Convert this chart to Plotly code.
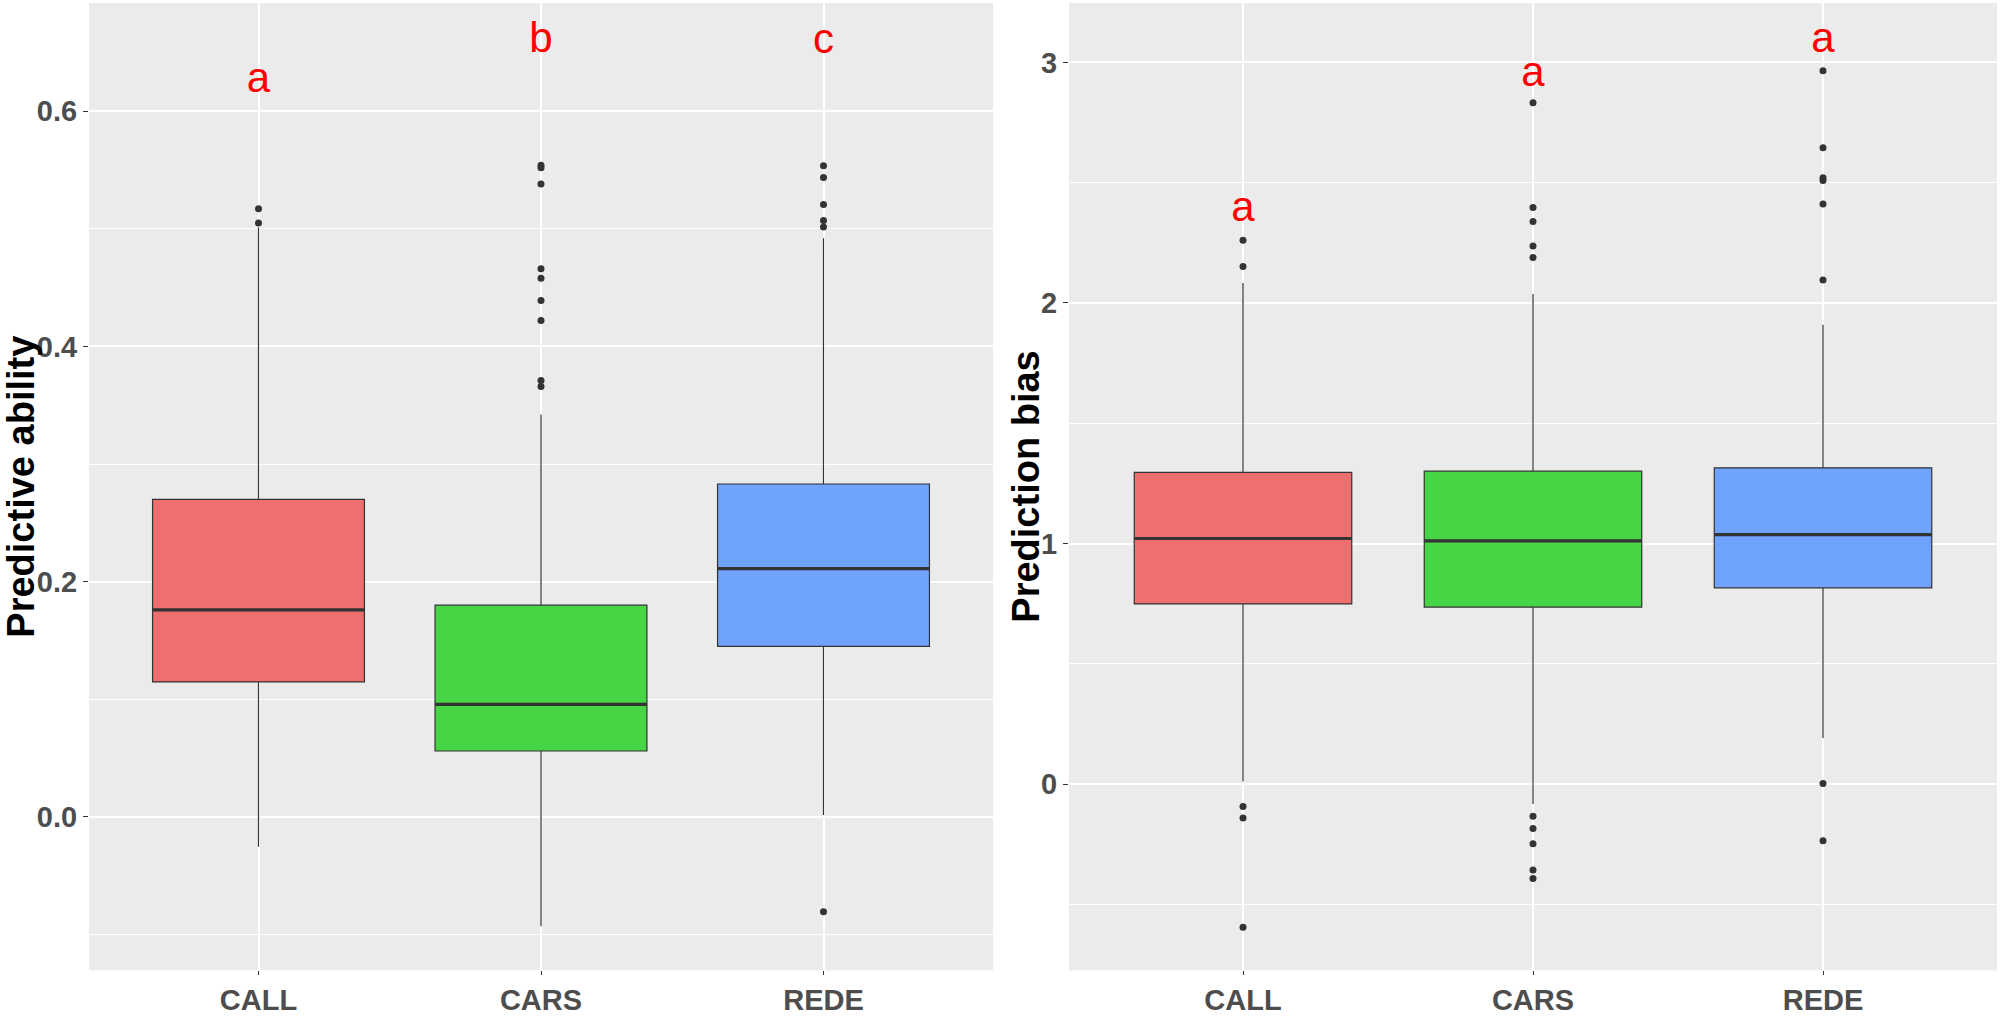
import plotly.graph_objects as go

categories = ["CALL", "CARS", "REDE"]
fill_colors = ["#ED6F6E", "#48D545", "#6FA3FE"]

# Left panel: Predictive ability
pa_q1 = [0.1147, 0.056, 0.145]
pa_median = [0.176, 0.0957, 0.211]
pa_q3 = [0.270, 0.180, 0.283]
pa_lower = [-0.0255, -0.093, 0.0016]
pa_upper = [0.501, 0.342, 0.492]
pa_outliers = [
    [0.505, 0.517],
    [0.554, 0.552, 0.538, 0.466, 0.458, 0.439, 0.422, 0.371, 0.366],
    [0.5535, 0.5437, 0.5207, 0.507, 0.5016, -0.0807],
]
pa_letters = ["a", "b", "c"]
pa_letter_y = [0.625, 0.659, 0.658]

# Right panel: Prediction bias
pb_q1 = [0.749, 0.736, 0.816]
pb_median = [1.021, 1.011, 1.037]
pb_q3 = [1.296, 1.301, 1.315]
pb_lower = [0.011, -0.083, 0.192]
pb_upper = [2.083, 2.037, 1.909]
pb_outliers = [
    [2.261, 2.152, -0.093, -0.141, -0.595],
    [2.832, 2.397, 2.339, 2.237, 2.189, -0.133, -0.184, -0.248, -0.357, -0.392],
    [2.965, 2.645, 2.52, 2.509, 2.411, 2.096, 0.003, -0.235],
]
pb_letters = ["a", "a", "a"]
pb_letter_y = [2.385, 2.945, 3.085]

fig = go.Figure()

def add_panel(xa, ya, q1, med, q3, lo, hi, outl, letters, letter_y):
    for i, cat in enumerate(categories):
        fig.add_trace(go.Box(
            x=[cat], q1=[q1[i]], median=[med[i]], q3=[q3[i]],
            lowerfence=[lo[i]], upperfence=[hi[i]],
            width=0.75, whiskerwidth=0, fillcolor=fill_colors[i],
            line=dict(color="#333333", width=1.2), boxpoints=False,
            xaxis=xa, yaxis=ya, showlegend=False, hoverinfo="skip"))
        # thick median line
        fig.add_trace(go.Box(
            x=[cat], q1=[med[i]], median=[med[i]], q3=[med[i]],
            lowerfence=[med[i]], upperfence=[med[i]],
            width=0.75, whiskerwidth=0, fillcolor="rgba(0,0,0,0)",
            line=dict(color="#333333", width=3.2), boxpoints=False,
            xaxis=xa, yaxis=ya, showlegend=False, hoverinfo="skip"))
        fig.add_trace(go.Scatter(
            x=[cat] * len(outl[i]), y=outl[i], mode="markers",
            marker=dict(color="#333333", size=7),
            xaxis=xa, yaxis=ya, showlegend=False, hoverinfo="skip"))
    fig.add_trace(go.Scatter(
        x=categories, y=letter_y, mode="text", text=letters,
        textposition="middle center",
        textfont=dict(family="Liberation Sans, Arial", size=42, color="#FF0000"),
        xaxis=xa, yaxis=ya, showlegend=False, hoverinfo="skip"))

add_panel("x", "y", pa_q1, pa_median, pa_q3, pa_lower, pa_upper, pa_outliers, pa_letters, pa_letter_y)
add_panel("x2", "y2", pb_q1, pb_median, pb_q3, pb_lower, pb_upper, pb_outliers, pb_letters, pb_letter_y)

tickfont = dict(family="Liberation Sans, Arial", size=29, color="#4D4D4D", weight="bold")
ydom = [1 - 980 / 1016, 1 - 3 / 1016]

xcommon = dict(type="category", categoryorder="array", categoryarray=categories,
               range=[-0.6, 2.6], showgrid=True, gridcolor="white", gridwidth=2,
               ticks="outside", ticklen=4, tickwidth=1, tickcolor="#333333",
               tickfont=tickfont, showline=False, zeroline=False, fixedrange=True)
ycommon = dict(showgrid=True, gridcolor="white", gridwidth=2, zeroline=False,
               ticks="outside", ticklen=5, tickwidth=1, tickcolor="#333333",
               tickfont=tickfont, showline=False, domain=ydom)

title_font = dict(family="Liberation Sans, Arial", size=38, color="black", weight="bold")

fig.update_layout(
    width=2000, height=1016,
    margin=dict(l=0, r=0, t=0, b=0),
    paper_bgcolor="white", plot_bgcolor="#EBEBEB",
    boxmode="overlay",
    xaxis=dict(domain=[89 / 2000, 993 / 2000], anchor="y", **xcommon),
    xaxis2=dict(domain=[1069 / 2000, 1997 / 2000], anchor="y2", **xcommon),
    yaxis=dict(anchor="x", range=[-0.1305, 0.692], tick0=0, dtick=0.2, tickformat=".1f",
               minor=dict(dtick=0.1, tick0=0, showgrid=True, gridcolor="white", gridwidth=1, ticklen=0),
               **ycommon),
    yaxis2=dict(anchor="x2", range=[-0.774, 3.247], tick0=0, dtick=1,
                minor=dict(dtick=0.5, tick0=0, showgrid=True, gridcolor="white", gridwidth=1, ticklen=0),
                **ycommon),
    annotations=[
        dict(text="Predictive ability", xref="paper", yref="paper", x=21 / 2000,
             y=(ydom[0] + ydom[1]) / 2, textangle=-90, showarrow=False, borderpad=0,
             xanchor="center", yanchor="middle", font=title_font),
        dict(text="Prediction bias", xref="paper", yref="paper", x=1026 / 2000,
             y=(ydom[0] + ydom[1]) / 2, textangle=-90, showarrow=False, borderpad=0,
             xanchor="center", yanchor="middle", font=title_font),
    ],
)

fig.write_html("out.html", config={"displayModeBar": False},
               post_script="document.body.style.margin='0px';")
